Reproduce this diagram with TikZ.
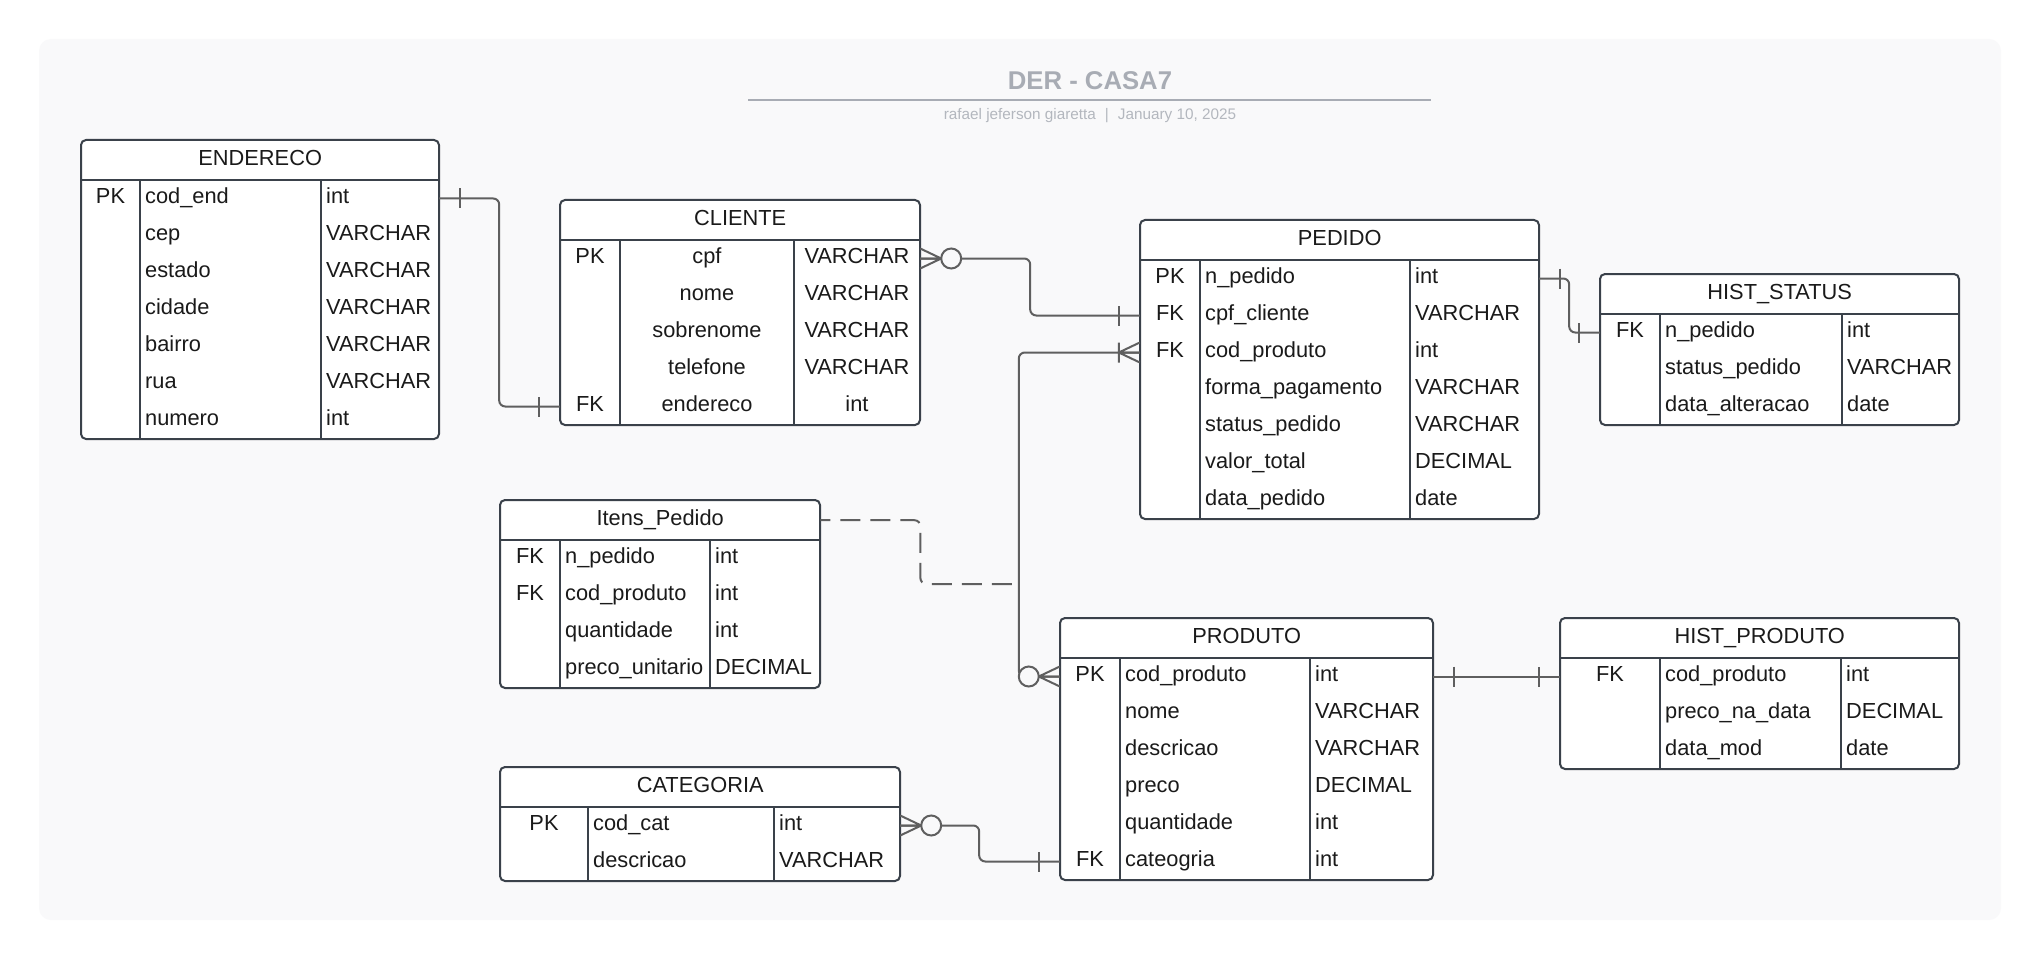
\documentclass[tikz,border=0pt]{standalone}
\usepackage{fontspec}
\setmainfont{Liberation Sans}
\usetikzlibrary{calc}
\definecolor{panel}{HTML}{F9F9FA}
\definecolor{tabline}{HTML}{3A414A}
\definecolor{connline}{HTML}{5F5F5F}
\definecolor{titlegray}{HTML}{A8ACB4}
\definecolor{subgray}{HTML}{B3B7BE}
\definecolor{ink}{HTML}{1A1A1A}
\tikzset{tableline/.style={draw=tabline,line width=2pt},
    conn/.style={draw=connline,line width=2pt,rounded corners=6pt},
    dashlink/.style={dash pattern=on 20pt off 10pt,dash phase=10pt},
    headbox/.style={inner sep=0pt,minimum height=40pt,text height=15pt,text depth=5pt,
        font=\fontsize{21.8}{26}\selectfont,text=ink},
    rowbox/.style={inner sep=0pt,minimum height=37pt},
    celltext/.style={inner sep=0pt,font=\fontsize{21.8}{26}\selectfont,text=ink},
    cellpos0/.style={anchor=base west},
    cellpos1/.style={anchor=base},
    barmark/.pic={\draw[conn,sharp corners] (21,-10) -- (21,10);},
    crowzero/.pic={\draw[conn,sharp corners] (0,-10) -- (21,0) -- (0,10) (0,0) -- (21,0);
        \draw[conn,fill=panel] (31,0) circle (10pt);},
    crowone/.pic={\draw[conn,sharp corners] (0,-10) -- (21,0) -- (0,10) (0,0) -- (21,0)
        (21,-10) -- (21,10);}}
% #1 name, #2 left, #3 top, #4 and #5 column rules, #6 right, #7 title, #8 0=left 1=centred, #9 rows
\newcommand{\erdtable}[9]{%
    \pgfmathsetmacro\tw{#6-#2}
    \foreach \kk/\nm/\ty [count=\i] in {#9} {\xdef\rowcount{\i}}
    \draw[tableline,fill=white,rounded corners=5pt] (#2,#3) rectangle (#6,{#3+40+37*\rowcount});
    \draw[tableline] (#2,{#3+40}) -- (#6,{#3+40})
        (#4,{#3+40}) -- (#4,{#3+40+37*\rowcount})
        (#5,{#3+40}) -- (#5,{#3+40+37*\rowcount});
    \node[headbox,minimum width=\tw pt,anchor=north west] (#1) at (#2,#3) {#7};
    \foreach \kk/\nm/\ty [count=\i] in {#9} {
        \node[rowbox,minimum width=\tw pt] (#1-\i) at ({(#2+#6)/2},{#3+21.5+37*\i}) {};
        \node[celltext,anchor=base] (#1-k\i) at ({(#2+#4)/2},{#3+26.5+37*\i}) {\kk};
        \node[celltext,cellpos#8] (#1-n\i) at ({#4+5+#8*((#5-#4)/2-5)},{#3+26.5+37*\i}) {\nm};
        \node[celltext,cellpos#8] (#1-t\i) at ({#5+5+#8*((#6-#5)/2-5)},{#3+26.5+37*\i}) {\ty};
    }
}

\begin{document}
\begin{tikzpicture}[x=1pt,y=-1pt]
    \useasboundingbox (0,0) rectangle (2040,960);
    \fill[white] (0,0) rectangle (2040,960);
    \fill[panel,rounded corners=12pt] (39,39) rectangle (2001,920);

    % title block
    \node[anchor=base,inner sep=0pt,text=titlegray,font=\fontsize{25.7}{30}\selectfont\bfseries]
        (title) at (1090,90) {DER - CASA7};
    \draw[titlegray,line width=2.5pt] (748,100) -- (1431,100);
    \node[anchor=base,inner sep=0pt,text=subgray,font=\fontsize{15.3}{18}\selectfont]
        (subtitle) at (1090,120) {rafael jeferson giaretta\hspace{9pt}|\hspace{9pt}January 10, 2025};

    % tables
    \erdtable{endereco}{81}{140}{140}{321}{439}{ENDERECO}{0}{PK/cod\_end/int, /cep/VARCHAR,
        /estado/VARCHAR, /cidade/VARCHAR, /bairro/VARCHAR, /rua/VARCHAR, /numero/int}
    \erdtable{cliente}{560}{200}{620}{794}{920}{CLIENTE}{1}{PK/cpf/VARCHAR, /nome/VARCHAR,
        /sobrenome/VARCHAR, /telefone/VARCHAR, FK/endereco/int}
    \erdtable{pedido}{1140}{220}{1200}{1410}{1539}{PEDIDO}{0}{PK/n\_pedido/int,
        FK/cpf\_cliente/VARCHAR, FK/cod\_produto/int, /forma\_pagamento/VARCHAR,
        /status\_pedido/VARCHAR, /valor\_total/DECIMAL, /data\_pedido/date}
    \erdtable{histstatus}{1600}{274}{1660}{1842}{1959}{HIST\_STATUS}{0}{FK/n\_pedido/int,
        /status\_pedido/VARCHAR, /data\_alteracao/date}
    \erdtable{itens}{500}{500}{560}{710}{820}{Itens\_Pedido}{0}{FK/n\_pedido/int,
        FK/cod\_produto/int, /quantidade/int, /preco\_unitario/DECIMAL}
    \erdtable{produto}{1060}{618}{1120}{1310}{1433}{PRODUTO}{0}{PK/cod\_produto/int,
        /nome/VARCHAR, /descricao/VARCHAR, /preco/DECIMAL, /quantidade/int, FK/cateogria/int}
    \erdtable{categoria}{500}{767}{588}{774}{900}{CATEGORIA}{0}{PK/cod\_cat/int,
        /descricao/VARCHAR}
    \erdtable{histproduto}{1560}{618}{1660}{1841}{1959}{HIST\_PRODUTO}{0}{FK/cod\_produto/int,
        /preco\_na\_data/DECIMAL, /data\_mod/date}

    % relationships
    \coordinate (itensjoin) at (1019,584);
    \draw[conn] (endereco-1.east) -- ++(60,0) |- (cliente-5.west);
    \draw[conn] (cliente-1.east) -- ++(110,0) |- (pedido-2.west);
    \draw[conn] (pedido-3.west) -- ++(-121,0) |- (produto-1.west);
    \draw[conn] (pedido-1.east) -- ++(30,0) |- (histstatus-1.west);
    \draw[conn] (produto-1.east) -- (histproduto-1.west);
    \draw[conn] (categoria-1.east) -- ++(79,0) |- (produto-6.west);
    \draw[conn,dashlink] (itens.east) -- ++(100,0) |- (itensjoin);

    \pic at (endereco-1.east) {barmark};
    \pic[rotate=180] at (cliente-5.west) {barmark};
    \pic at (cliente-1.east) {crowzero};
    \pic[rotate=180] at (pedido-2.west) {barmark};
    \pic[rotate=180] at (pedido-3.west) {crowone};
    \pic[rotate=180] at (produto-1.west) {crowzero};
    \pic at (pedido-1.east) {barmark};
    \pic[rotate=180] at (histstatus-1.west) {barmark};
    \pic at (produto-1.east) {barmark};
    \pic[rotate=180] at (histproduto-1.west) {barmark};
    \pic at (categoria-1.east) {crowzero};
    \pic[rotate=180] at (produto-6.west) {barmark};
\end{tikzpicture}
\end{document}
